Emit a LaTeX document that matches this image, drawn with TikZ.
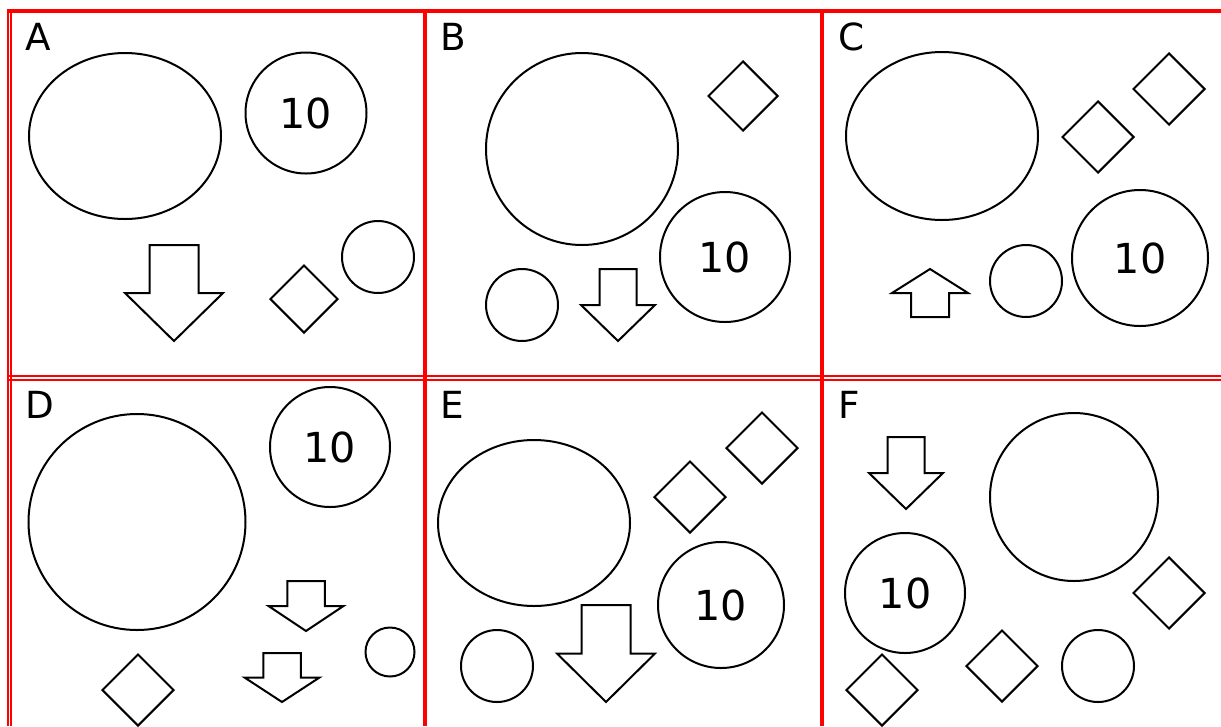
\documentclass[tikz,border=0pt]{standalone}
\usepackage{fontspec}
\setmainfont{DejaVu Sans}
\usetikzlibrary{shapes.geometric}
\definecolor{panelred}{rgb}{1.0, 0.0, 0.0}
\tikzset{
    shp/.style={draw, line width=1.5pt, inner sep=0pt},
    circ/.style={shp, shape=circle, minimum size=#1*0.75pt},
    oval/.style 2 args={shp, shape=ellipse, minimum width=#1*0.75pt, minimum height=#2*0.75pt},
    dmd/.style={shp, shape=diamond, minimum size=#1*0.75pt},
    lbl/.style={anchor=base west, inner sep=0pt, font=\fontsize{28}{33}\selectfont},
    num/.style={font=\fontsize{31}{36}\selectfont},
    thickframe/.style={draw=panelred, line width=2.9pt},
    thinframe/.style={draw=panelred, line width=1.6pt},
    pics/blockarrow/.style={code={
        \draw[line width=1.5pt, line join=miter] (-0.25,0) -- (0.25,0) -- (0.25,0.5) -- (0.5,0.5) -- (0,1) -- (-0.5,0.5) -- (-0.25,0.5) -- cycle;
    }}
}
\begin{document}
\begin{tikzpicture}[x=0.75pt, y=-0.75pt]
                            \useasboundingbox (0,0) rectangle (1221,726);
                            \draw[thickframe] (7,11) -- (1221,11);
                            \draw[thinframe]  (8.3,10) -- (8.3,726);
                            \draw[thinframe]  (11.3,10) -- (11.3,726);
                            \draw[thinframe]  (7,376) -- (1221,376);
                            \draw[thinframe]  (7,379.8) -- (1221,379.8);
                            \draw[thickframe] (424.8,10) -- (424.8,726);
                            \draw[thickframe] (822,10) -- (822,726);

                            \node[lbl]                     (labA) at (25,50)   {A};
                            \node[oval={192}{166}]         (ovA)  at (125,136) {};
                            \node[circ=121, num]           (tenA) at (306,113) {10};
                            \node[circ=72]                 (smA)  at (378,257) {};
                            \node[dmd=68]                  (dmA)  at (304,299) {};
                            \pic[xscale=98, yscale=96] at (174,245) {blockarrow};

                            \node[lbl]                     (labB) at (440,50)  {B};
                            \node[circ=192]                (bgB)  at (582,149) {};
                            \node[dmd=70]                  (dmB)  at (743,96)  {};
                            \node[circ=130, num]           (tenB) at (725,257) {10};
                            \node[circ=72]                 (smB)  at (522,305) {};
                            \pic[xscale=74, yscale=72] at (618,269) {blockarrow};

                            \node[lbl]                     (labC) at (838,50)  {C};
                            \node[oval={192}{168}]         (ovC)  at (942,136) {};
                            \node[dmd=72]                  (dmC1) at (1098,137) {};
                            \node[dmd=72]                  (dmC2) at (1169,89) {};
                            \node[circ=136, num]           (tenC) at (1140,258) {10};
                            \node[circ=72]                 (smC)  at (1026,281) {};
                            \pic[xscale=76, yscale=-48] at (930,317) {blockarrow};

                            \node[lbl]                     (labD) at (25,418)  {D};
                            \node[oval={217}{216}]         (ovD)  at (137,522) {};
                            \node[circ=120, num]           (tenD) at (330,447) {10};
                            \node[circ=49]                 (smD)  at (390,652) {};
                            \node[dmd=72]                  (dmD)  at (138,690) {};
                            \pic[xscale=75, yscale=50] at (306,581) {blockarrow};
                            \pic[xscale=75, yscale=49] at (282,653) {blockarrow};

                            \node[lbl]                     (labE) at (440,418) {E};
                            \node[oval={192}{166}]         (ovE)  at (534,523) {};
                            \node[dmd=72]                  (dmE1) at (690,497) {};
                            \node[dmd=72]                  (dmE2) at (762,448) {};
                            \node[circ=126, num]           (tenE) at (721,605) {10};
                            \node[circ=72]                 (smE)  at (497,666) {};
                            \pic[xscale=98, yscale=97] at (606,605) {blockarrow};

                            \node[lbl]                     (labF) at (838,418) {F};
                            \node[circ=168]                (bgF)  at (1074,497) {};
                            \node[circ=120, num]           (tenF) at (905,593) {10};
                            \node[dmd=72]                  (dmF1) at (1169,593) {};
                            \node[dmd=72]                  (dmF2) at (1002,666) {};
                            \node[circ=72]                 (smF)  at (1098,666) {};
                            \node[dmd=72]                  (dmF3) at (882,690) {};
                            \pic[xscale=74, yscale=72] at (906,437) {blockarrow};
                        \end{tikzpicture}
\end{document}
